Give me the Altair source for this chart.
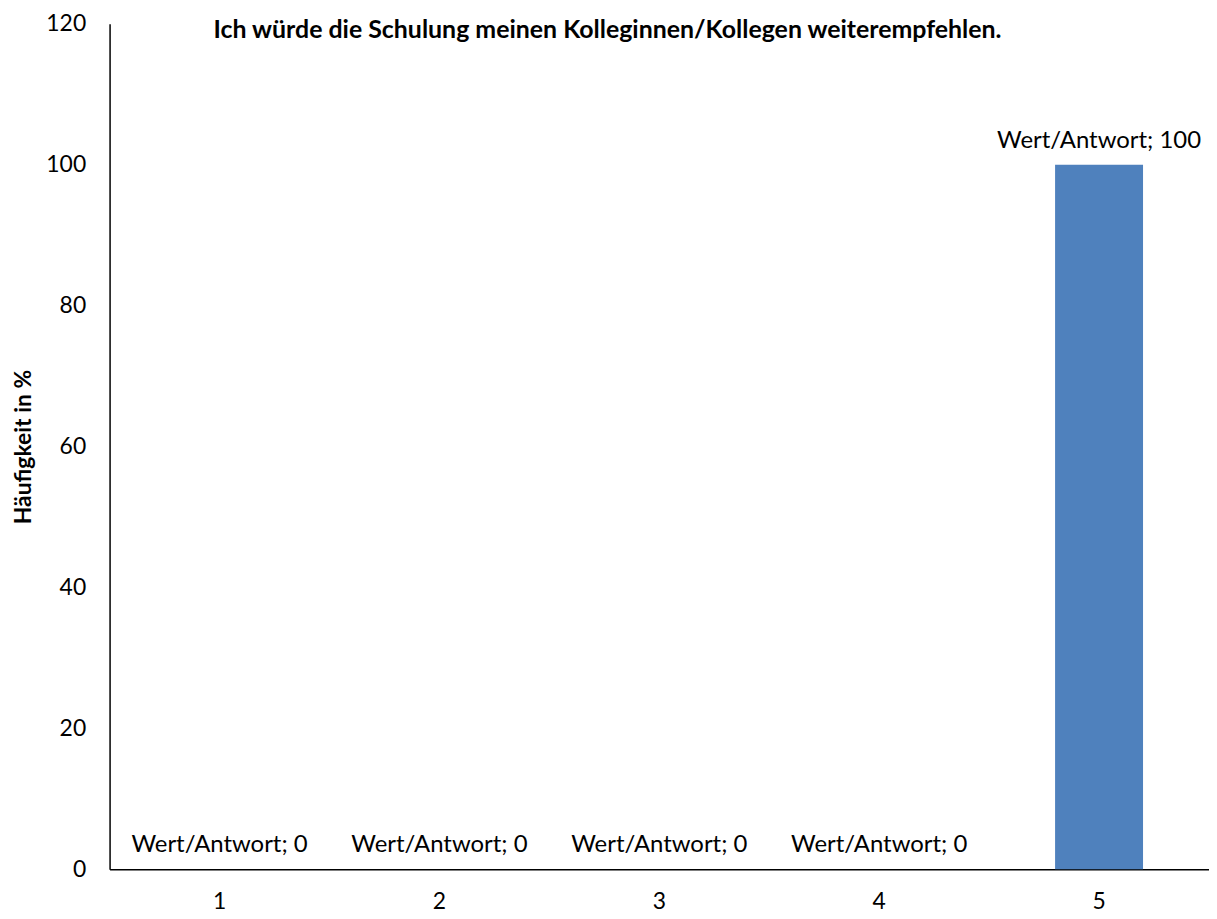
import altair as alt
import pandas as pd

categories = ["1", "2", "3", "4", "5"]
values = [0, 0, 0, 0, 100]
label_prefix = "Wert/Antwort; "
y_ticks = [0, 20, 40, 60, 80, 100, 120]

df = pd.DataFrame({"cat": categories, "val": values})
df["label"] = [label_prefix + str(v) for v in values]

FONT = "Lato"

x = alt.X("cat:N", sort=categories, title=None,
          scale=alt.Scale(paddingInner=0.6, paddingOuter=0.3),
          axis=alt.Axis(labelAngle=0, ticks=False, grid=False, domainColor="black", domainWidth=1.5,
                        labelFontSize=23, labelFont=FONT, labelColor="black", labelPadding=21))
y = alt.Y("val:Q", title="Häufigkeit in %",
          scale=alt.Scale(domain=[0, 120], nice=False),
          axis=alt.Axis(values=y_ticks, grid=False, ticks=False, domainColor="black", domainWidth=1.5,
                        labelFontSize=23, labelFont=FONT, labelColor="black", labelPadding=24,
                        titleFontSize=23, titleFont=FONT, titleFontWeight="bold", titleColor="black",
                        titlePadding=10))

bars = alt.Chart(df).mark_bar(color="#4F81BD").encode(x=x, y=y)
labels = alt.Chart(df).mark_text(baseline="bottom", dy=-12, fontSize=24, font=FONT, color="black").encode(
    x=x, y=y, text="label:N")

chart = (bars + labels).properties(
    width=1104, height=849,
    background="white",
    title=alt.TitleParams("Ich würde die Schulung meinen Kolleginnen/Kollegen weiterempfehlen.",
                          font=FONT, fontSize=25, fontWeight="bold", color="black",
                          anchor="middle", dx=-52, offset=-30),
    autosize=alt.AutoSizeParams(type="none"),
    padding={"left": 102, "top": 14, "right": 0, "bottom": 45},
).configure_view(stroke=None, strokeWidth=0).configure_axis(grid=False)

chart.save("out.html", embed_options={"renderer": "svg", "actions": False})
